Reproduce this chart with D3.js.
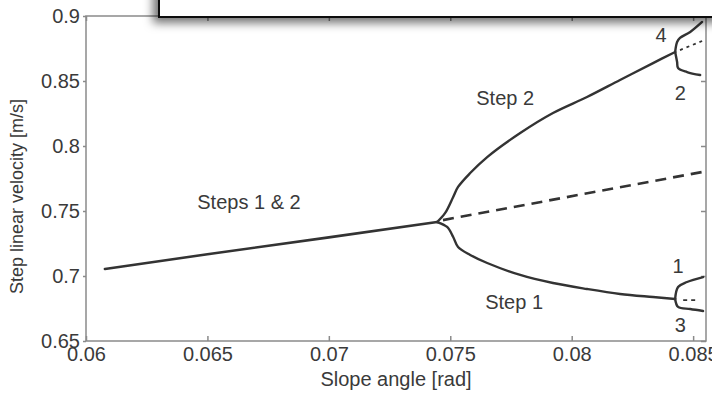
<!DOCTYPE html>
<html>
<head>
<meta charset="utf-8">
<script src="https://cdn.jsdelivr.net/npm/d3@7"></script>
<style>
  html, body { margin: 0; padding: 0; background: #fff; }
  svg { display: block; font-family: "Liberation Sans", Arial, Helvetica, sans-serif; }
</style>
</head>
<body>
<svg id="chart" width="712" height="394"></svg>
<script>
// ---- Data ----
const xTicks = [0.06, 0.065, 0.07, 0.075, 0.08, 0.085];
const yTicks = [0.65, 0.7, 0.75, 0.8, 0.85, 0.9];
const xDomain = [0.06, 0.08553];
const yDomain = [0.65, 0.9];

// Period-1 gait (Steps 1 & 2)
const mainX = [0.06078, 0.0650, 0.0700, 0.07446];
const mainY = [0.7054, 0.7167, 0.7297, 0.7415];

// Step 2 (upper branch after bifurcation)
const step2X = [0.07446, 0.07479, 0.07512, 0.07532, 0.07582, 0.07652, 0.07788, 0.07923, 0.08063, 0.08199, 0.08335, 0.08426];
const step2Y = [0.7415, 0.7485, 0.7608, 0.7685, 0.7792, 0.7915, 0.8100, 0.8254, 0.8377, 0.8508, 0.8638, 0.8723];

// Step 1 (lower branch after bifurcation)
const step1X = [0.07446, 0.07487, 0.07512, 0.07532, 0.07582, 0.07652, 0.07788, 0.07923, 0.08063, 0.08199, 0.08335, 0.08426];
const step1Y = [0.7415, 0.7377, 0.7300, 0.7223, 0.7162, 0.7100, 0.7008, 0.6946, 0.6900, 0.6862, 0.6838, 0.6823];

// Unstable period-1 (dashed)
const unstableX = [0.07470, 0.08537];
const unstableY = [0.7430, 0.7800];

// Second bifurcation branches
const step4X = [0.08426, 0.08434, 0.08446, 0.08488, 0.08537];
const step4Y = [0.8723, 0.8800, 0.8831, 0.8877, 0.8954];
const step2bX = [0.08426, 0.08434, 0.08438, 0.08475, 0.08529];
const step2bY = [0.8723, 0.8646, 0.8600, 0.8569, 0.8546];
const upperDotX = [0.08446, 0.08537];
const upperDotY = [0.8738, 0.8808];

const step1bX = [0.08426, 0.08438, 0.08475, 0.08541];
const step1bY = [0.6823, 0.6915, 0.6954, 0.6992];
const step3X = [0.08426, 0.08438, 0.08488, 0.08541];
const step3Y = [0.6823, 0.6762, 0.6746, 0.6731];
const lowerDotX = [0.08459, 0.08517];
const lowerDotY = [0.6815, 0.6815];

// Annotations: text and anchor in data units
const labelText = ["Steps 1 & 2", "Step 2", "Step 1", "4", "2", "1", "3"];
const labelX = [0.06671, 0.07726, 0.07763, 0.08368, 0.08447, 0.08438, 0.08447];
const labelY = [0.7515, 0.8315, 0.6745, 0.8800, 0.8354, 0.7023, 0.6569];

const xTitle = "Slope angle [rad]";
const yTitle = "Step linear velocity [m/s]";

// ---- Layout ----
const svg = d3.select("#chart");
const plot = { left: 86, right: 706, top: 16, bottom: 341 };
const x = d3.scaleLinear().domain(xDomain).range([plot.left, plot.right]);
const y = d3.scaleLinear().domain(yDomain).range([plot.bottom, plot.top]);

const axisColor = "#8a8a8a";
const textColor = "#3a3a3a";
const lineColor = "#333";

// Frame
svg.append("rect")
  .attr("x", plot.left).attr("y", plot.top)
  .attr("width", plot.right - plot.left).attr("height", plot.bottom - plot.top)
  .attr("fill", "none").attr("stroke", axisColor).attr("stroke-width", 1.5);

// Bottom axis (inward ticks)
const gx = svg.append("g").attr("transform", `translate(0,${plot.bottom})`)
  .call(d3.axisBottom(x).tickValues(xTicks).tickSizeInner(-5).tickSizeOuter(0).tickPadding(8)
    .tickFormat(d3.format("")));
// Top ticks
svg.append("g").attr("transform", `translate(0,${plot.top})`)
  .call(d3.axisTop(x).tickValues(xTicks).tickSizeInner(-5).tickSizeOuter(0).tickFormat(""));
// Left axis (outward ticks)
const gy = svg.append("g").attr("transform", `translate(${plot.left},0)`)
  .call(d3.axisLeft(y).tickValues(yTicks).tickSizeInner(3).tickSizeOuter(0).tickPadding(3)
    .tickFormat(d3.format("")));
// Right ticks (inward)
svg.append("g").attr("transform", `translate(${plot.right},0)`)
  .call(d3.axisRight(y).tickValues(yTicks).tickSizeInner(-5).tickSizeOuter(0).tickFormat(""));

svg.selectAll(".domain").remove();
svg.selectAll(".tick line").attr("stroke", axisColor).attr("stroke-width", 1.5);
svg.selectAll(".tick text").attr("fill", textColor).attr("font-size", 20)
  .attr("font-family", "Liberation Sans, Arial, sans-serif");
gx.selectAll(".tick text").attr("dy", "0.62em");

// Axis titles
svg.append("text").attr("x", (plot.left + plot.right) / 2 + 0).attr("y", 386)
  .attr("text-anchor", "middle").attr("font-size", 20).attr("fill", textColor).text(xTitle);
svg.append("text").attr("transform", `translate(23,${(plot.top + plot.bottom) / 2 + 18}) rotate(-90)`)
  .attr("text-anchor", "middle").attr("font-size", 18).attr("fill", textColor).text(yTitle);

// Curves
const pts = (xs, ys) => xs.map((v, i) => [v, ys[i]]);
const line = d3.line().x(d => x(d[0])).y(d => y(d[1])).curve(d3.curveCatmullRom.alpha(0.5));
const straight = d3.line().x(d => x(d[0])).y(d => y(d[1]));

const g = svg.append("g").attr("fill", "none").attr("stroke", lineColor)
  .attr("stroke-linecap", "round").attr("stroke-linejoin", "round");

g.append("path").attr("d", straight(pts(mainX, mainY))).attr("stroke-width", 2.6);
g.append("path").attr("d", line(pts(step2X, step2Y))).attr("stroke-width", 2.4);
g.append("path").attr("d", line(pts(step1X, step1Y))).attr("stroke-width", 2.4);
g.append("path").attr("d", straight(pts(unstableX, unstableY))).attr("stroke-width", 2.6)
  .attr("stroke-dasharray", "11,7").attr("stroke-linecap", "butt");
g.append("path").attr("d", line(pts(step4X, step4Y))).attr("stroke-width", 2.4);
g.append("path").attr("d", line(pts(step2bX, step2bY))).attr("stroke-width", 2.4);
g.append("path").attr("d", line(pts(step1bX, step1bY))).attr("stroke-width", 2.4);
g.append("path").attr("d", line(pts(step3X, step3Y))).attr("stroke-width", 2.4);
g.append("path").attr("d", straight(pts(upperDotX, upperDotY))).attr("stroke-width", 1.8)
  .attr("stroke-dasharray", "3,4").attr("stroke-linecap", "butt");
g.append("path").attr("d", straight(pts(lowerDotX, lowerDotY))).attr("stroke-width", 1.8)
  .attr("stroke-dasharray", "4,4").attr("stroke-linecap", "butt");

// Annotations
svg.append("g").selectAll("text").data(labelText).join("text")
  .attr("x", (d, i) => x(labelX[i])).attr("y", (d, i) => y(labelY[i]))
  .attr("text-anchor", "middle").attr("font-size", 20).attr("fill", textColor)
  .text(d => d);

// Overlay box with shadow at top (partially out of frame)
const defs = svg.append("defs");
const f = defs.append("filter").attr("id", "shadow").attr("x", "-20%").attr("y", "-50%")
  .attr("width", "140%").attr("height", "250%");
f.append("feDropShadow").attr("dx", -5).attr("dy", 5).attr("stdDeviation", 5)
  .attr("flood-color", "#000").attr("flood-opacity", 0.55);
svg.append("rect").attr("x", 159).attr("y", -20).attr("width", 620).attr("height", 37)
  .attr("fill", "#fff").attr("stroke", "#111").attr("stroke-width", 2)
  .attr("filter", "url(#shadow)");
</script>
</body>
</html>
